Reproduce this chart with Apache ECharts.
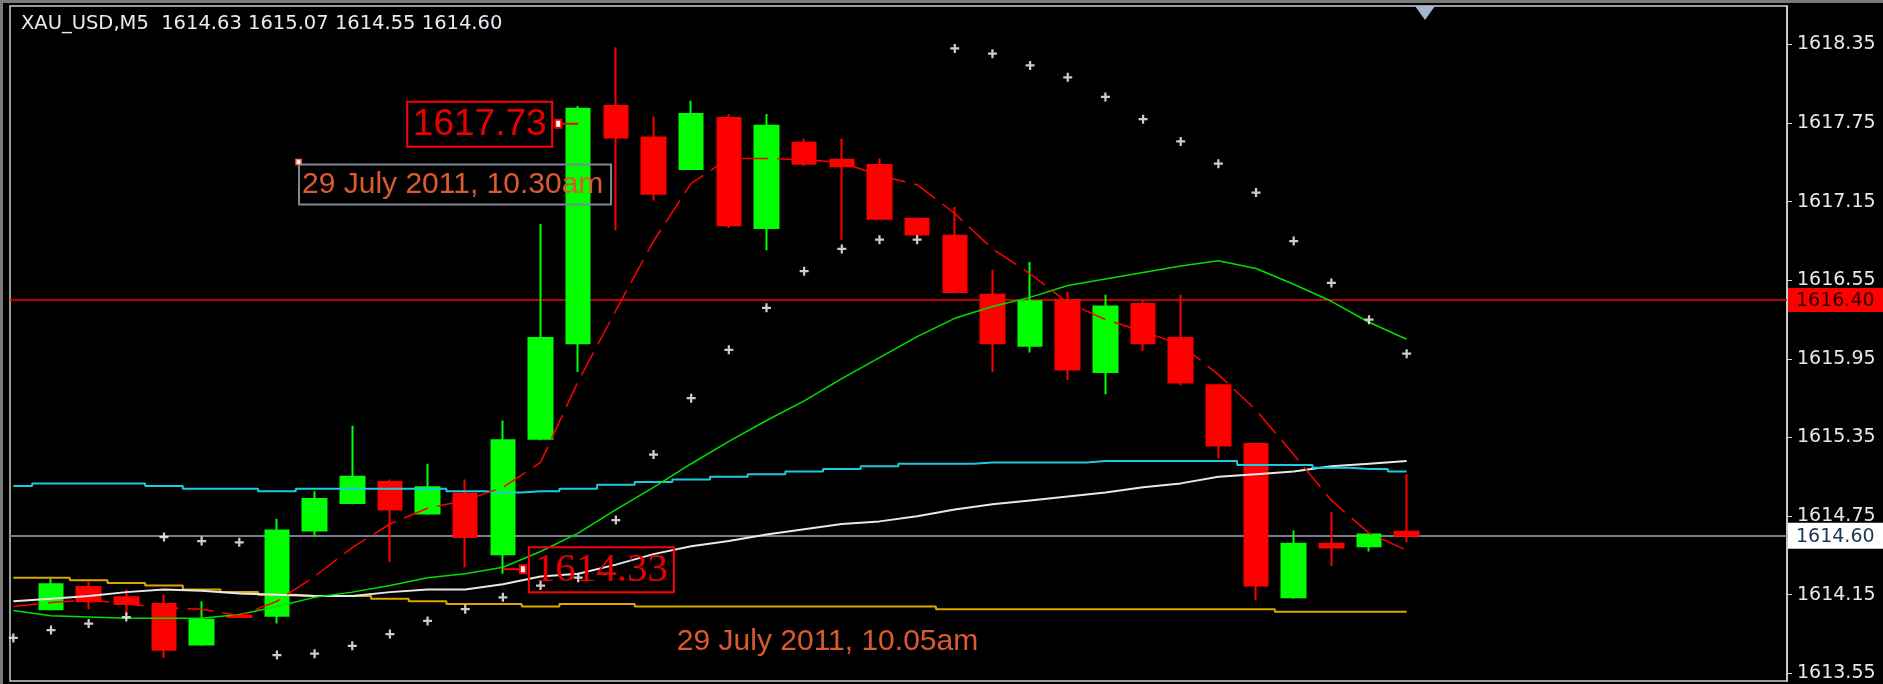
<!DOCTYPE html>
<html>
<head>
<meta charset="utf-8">
<title>XAU_USD,M5</title>
<script src="https://cdn.jsdelivr.net/npm/echarts@6/dist/echarts.min.js"></script>
<style>
  html, body { margin: 0; padding: 0; background: #000; }
  #chart { width: 1883px; height: 684px; }
</style>
</head>
<body>
<div id="chart"></div>
<script>
// ---- data ----
// bar numbers of the visible candles
const bars = [0, 1, 2, 3, 4, 5, 6, 7, 8, 9, 10, 11, 12, 13, 14, 15, 16, 17, 18,
  19, 20, 21, 22, 23, 24, 25, 26, 27, 28, 29, 30, 31, 32, 33, 34, 35, 36];
// indicator lines also start at bar -1 (cut at the left edge)
const lineBars = [-1].concat(bars);

const open = [1614.04, 1614.21, 1614.13, 1614.08, 1613.77, 1613.99, 1613.99, 1614.64, 1614.85, 1615.01,
  1614.77, 1614.92, 1614.46, 1615.34, 1616.07, 1617.88, 1617.64, 1617.40, 1617.79, 1616.95,
  1617.60, 1617.47, 1617.43, 1617.02, 1616.89, 1616.44, 1616.05, 1616.40, 1615.85, 1616.37,
  1616.11, 1615.75, 1615.30, 1614.13, 1614.54, 1614.52, 1614.63];
const high = [1614.27, 1614.25, 1614.19, 1614.15, 1614.10, 1613.99, 1614.73, 1614.94, 1615.44, 1615.03,
  1615.15, 1615.03, 1615.48, 1616.98, 1617.88, 1618.33, 1617.80, 1617.92, 1617.82, 1617.82,
  1617.63, 1617.63, 1617.48, 1617.03, 1617.11, 1616.63, 1616.69, 1616.46, 1616.44, 1616.40,
  1616.44, 1615.76, 1615.31, 1614.64, 1614.78, 1614.61, 1615.07];
const low = [1614.03, 1614.04, 1614.00, 1613.67, 1613.76, 1613.98, 1613.93, 1614.59, 1614.84, 1614.40,
  1614.76, 1614.36, 1614.31, 1615.33, 1615.85, 1616.93, 1617.16, 1617.39, 1616.95, 1616.78,
  1617.42, 1616.86, 1617.02, 1616.89, 1616.45, 1615.85, 1616.00, 1615.79, 1615.68, 1616.01,
  1615.75, 1615.19, 1614.11, 1614.12, 1614.37, 1614.48, 1614.55];
const close = [1614.23, 1614.10, 1614.08, 1613.73, 1613.96, 1613.98, 1614.64, 1614.88, 1615.05, 1614.80,
  1614.97, 1614.59, 1615.33, 1616.11, 1617.86, 1617.64, 1617.21, 1617.82, 1616.97, 1617.73,
  1617.44, 1617.42, 1617.02, 1616.90, 1616.46, 1616.07, 1616.39, 1615.87, 1616.35, 1616.07,
  1615.77, 1615.29, 1614.22, 1614.54, 1614.51, 1614.61, 1614.60];

// indicators, one value per lineBars entry
const psar = [1613.82, 1613.88, 1613.93, 1613.98, 1614.59, 1614.56, 1614.55, 1613.69, 1613.70, 1613.76,
  1613.85, 1613.95, 1614.04, 1614.13, 1614.22, 1614.28, 1614.72, 1615.22, 1615.65, 1616.02,
  1616.34, 1616.62, 1616.79, 1616.86, 1616.86, 1618.32, 1618.28, 1618.19, 1618.10, 1617.95,
  1617.78, 1617.61, 1617.44, 1617.22, 1616.85, 1616.53, 1616.25, 1615.99];
const maFast = [1614.06, 1614.09, 1614.11, 1614.08, 1614.05, 1614.04, 1613.99, 1614.10, 1614.29, 1614.51,
  1614.69, 1614.81, 1614.87, 1614.97, 1615.16, 1615.78, 1616.32, 1616.85, 1617.29, 1617.48,
  1617.48, 1617.47, 1617.45, 1617.35, 1617.28, 1617.06, 1616.79, 1616.60, 1616.38, 1616.25,
  1616.16, 1616.06, 1615.83, 1615.56, 1615.22, 1614.87, 1614.62, 1614.49];
const maSlow = [1614.03, 1613.99, 1613.98, 1613.97, 1613.97, 1613.97, 1614.00, 1614.06, 1614.13, 1614.17,
  1614.22, 1614.28, 1614.31, 1614.36, 1614.48, 1614.62, 1614.80, 1614.97, 1615.15, 1615.32,
  1615.48, 1615.63, 1615.80, 1615.96, 1616.12, 1616.26, 1616.35, 1616.42, 1616.51, 1616.56,
  1616.61, 1616.66, 1616.70, 1616.64, 1616.52, 1616.39, 1616.23, 1616.10];
const cyanLine = [1614.98, 1615.00, 1615.00, 1615.00, 1614.98, 1614.96, 1614.96, 1614.94, 1614.96, 1614.96,
  1614.96, 1614.96, 1614.94, 1614.93, 1614.94, 1614.96, 1614.99, 1615.01, 1615.03, 1615.05,
  1615.07, 1615.09, 1615.11, 1615.13, 1615.15, 1615.15, 1615.16, 1615.16, 1615.16, 1615.17,
  1615.17, 1615.17, 1615.17, 1615.14, 1615.14, 1615.12, 1615.11, 1615.09];
const whiteLine = [1614.10, 1614.12, 1614.14, 1614.17, 1614.19, 1614.18, 1614.16, 1614.15, 1614.14, 1614.14,
  1614.17, 1614.19, 1614.19, 1614.23, 1614.29, 1614.31, 1614.38, 1614.46, 1614.52, 1614.56,
  1614.61, 1614.65, 1614.69, 1614.71, 1614.75, 1614.80, 1614.84, 1614.87, 1614.90, 1614.93,
  1614.97, 1615.00, 1615.05, 1615.07, 1615.09, 1615.13, 1615.15, 1615.17];
const goldLine = [1614.28, 1614.28, 1614.26, 1614.24, 1614.22, 1614.19, 1614.17, 1614.15, 1614.14, 1614.14,
  1614.12, 1614.10, 1614.08, 1614.08, 1614.06, 1614.08, 1614.08, 1614.06, 1614.06, 1614.06,
  1614.06, 1614.06, 1614.06, 1614.06, 1614.06, 1614.04, 1614.04, 1614.04, 1614.04, 1614.04,
  1614.04, 1614.04, 1614.04, 1614.04, 1614.02, 1614.02, 1614.02, 1614.02];

// price scale labels
const yTicks = [1613.55, 1614.15, 1614.75, 1615.35, 1615.95, 1616.55, 1617.15, 1617.75, 1618.35];

const symbolName = 'XAU_USD,M5';
const lastBar = [1614.63, 1615.07, 1614.55, 1614.60]; // O H L C of the current bar
const levelLine = 1616.40;
const bidLine = 1614.60;

// text objects drawn on the chart
const priceNotes = [
  { text: '1617.73', bar: 14, price: 1617.73, side: 'left' },
  { text: '1614.33', bar: 12, price: 1614.33, side: 'right' }
];
const timeNotes = [
  { text: '29 July 2011, 10.30am', bar: 6.56, price: 1617.45, boxed: true },
  { text: '29 July 2011, 10.05am', bar: 16.62, price: 1613.92, boxed: false }
];

// ---- chart ----
const chart = echarts.init(document.getElementById('chart'));

const candles = bars.map((b, k) => [b, open[k], close[k], low[k], high[k]]);
const pairs = arr => lineBars.map((b, k) => [b, arr[k]]);

function lineSeries(name, arr, color, width, extra) {
  return Object.assign({
    name: name,
    type: 'line',
    data: pairs(arr),
    symbol: 'none',
    z: 3,
    lineStyle: { color: color, width: width }
  }, extra || {});
}

chart.setOption({
  animation: false,
  backgroundColor: '#000000',
  grid: {
    left: 10, right: 96, top: 6, bottom: 3,
    show: true, borderColor: '#cfcfcf', borderWidth: 1.5, backgroundColor: '#000000'
  },
  xAxis: { type: 'value', min: -1.089, max: 46.1, show: false },
  yAxis: {
    type: 'value',
    position: 'right',
    min: 1613.4916,
    max: 1618.644,
    axisLine: { show: true, onZero: false, lineStyle: { color: '#d8d8d8', width: 1.5 } },
    axisTick: { show: true, length: 5, customValues: yTicks, lineStyle: { color: '#d8d8d8' } },
    axisLabel: {
      customValues: yTicks,
      margin: 10,
      color: '#e4e9ef',
      fontFamily: 'DejaVu Sans',
      fontSize: 19,
      formatter: v => v.toFixed(2)
    },
    splitLine: { show: false }
  },
  series: [
    {
      name: 'price',
      type: 'candlestick',
      data: candles,
      barWidth: 24,
      z: 2,
      itemStyle: {
        color: '#00ff00', color0: '#ff0000',
        borderColor: '#00ff00', borderColor0: '#ff0000', borderColorDoji: '#ff0000',
        borderWidth: 2
      },
      markLine: {
        silent: true,
        z: 1,
        symbol: 'none',
        label: { show: false },
        data: [
          { yAxis: levelLine, lineStyle: { color: '#ff0000', width: 1.5, type: 'solid' } },
          { yAxis: bidLine, lineStyle: { color: '#748090', width: 2, type: 'solid' } }
        ]
      }
    },
    lineSeries('gold', goldLine, '#d9a900', 2, { step: 'middle' }),
    lineSeries('white', whiteLine, '#e8e8e8', 2),
    lineSeries('cyan', cyanLine, '#1ccbe0', 2, { step: 'middle' }),
    lineSeries('slow MA', maSlow, '#00e000', 1.5),
    lineSeries('fast MA', maFast, '#ff0000', 1.5, {
      lineStyle: { color: '#ff0000', width: 1.5, type: [26, 9] }
    }),
    {
      name: 'SAR',
      type: 'scatter',
      data: pairs(psar),
      z: 4,
      symbol: 'path://M3,0L5,0L5,3L8,3L8,5L5,5L5,8L3,8L3,5L0,5L0,3L3,3Z',
      symbolSize: 9,
      itemStyle: { color: '#ffffff' }
    }
  ]
});

// ---- overlays: header, notes, price boxes ----
const px = (x, p) => chart.convertToPixel({ gridIndex: 0 }, [x, p]);

function txt(x, y, text, font, fill, align) {
  return {
    type: 'text', x: x, y: y, z: 100,
    style: {
      text: text, font: font, fill: fill,
      align: align || 'left', verticalAlign: 'middle',
      textAlign: align || 'left', textVerticalAlign: 'middle'
    }
  };
}
function box(x, y, w, h, fill, stroke, lw) {
  return {
    type: 'rect', z: 100,
    shape: { x: x, y: y, width: w, height: h },
    style: { fill: fill, stroke: stroke, lineWidth: lw || 0 }
  };
}

const g = [];

// window frame and chart shift marker
g.push(box(0, 0, 1883, 3, '#7a7a7a', null));
g.push(box(0, 0, 3, 684, '#7a7a7a', null));
g.push({
  type: 'polygon', z: 100,
  shape: { points: [[1415, 6], [1435, 6], [1425, 20]] },
  style: { fill: '#a3b8cc' }
});

// header line
g.push(txt(21, 24, symbolName + '  ' + lastBar.map(v => v.toFixed(2)).join(' '),
  '19.5px "DejaVu Sans"', '#e6ecf2'));

// price notes with their arrow markers
priceNotes.forEach(n => {
  const p = px(n.bar, n.price);
  const cx = p[0], y = p[1] - 2;
  const dir = n.side === 'left' ? -1 : 1;
  const mx = cx + dir * 20;
  g.push({
    type: 'line', z: 100,
    shape: { x1: cx, y1: y, x2: mx, y2: y },
    style: { stroke: '#ff0000', lineWidth: 2 }
  });
  g.push(box(mx - 3, y - 4, 6, 8, '#ffffff', '#ff0000', 2));
  const w = 145;
  const bx = n.side === 'left' ? mx - 6 - w : mx + 6;
  g.push(box(bx, y - 22, w, 45, 'rgba(0,0,0,0)', '#ff0000', 2));
  const font = n.side === 'left' ? '37px "Liberation Sans"' : '41px "Liberation Serif"';
  g.push(txt(bx + w / 2, y + 1, n.text, font, '#e80000', 'center'));
});

// time notes
timeNotes.forEach(n => {
  const p = px(n.bar, n.price);
  const x = p[0], y = p[1];
  if (n.boxed) {
    g.push(box(x + 1, y + 2, 312, 40, 'rgba(0,0,0,0)', '#7d8996', 2));
    g.push(box(x - 2, y - 3, 5, 5, '#ffffff', '#ff7050', 1.5));
    g.push(txt(x + 4, y + 22, n.text, '30px "Liberation Sans"', '#dc5a32'));
  } else {
    g.push(txt(x, y + 17, n.text, '30px "Liberation Sans"', '#dc5a32'));
  }
});

// price boxes on the scale
const yl = px(0, levelLine)[1];
g.push(box(1788, yl - 12, 95, 24, '#ff0000', null));
g.push(txt(1796, yl + 1, levelLine.toFixed(2), '19px "DejaVu Sans"', '#2a0000'));
const yb = px(0, bidLine)[1];
g.push(box(1788, yb - 13, 95, 26, '#ffffff', null));
g.push(txt(1796, yb + 1, bidLine.toFixed(2), '19px "DejaVu Sans"', '#1c3550'));

chart.setOption({ graphic: { elements: g } });
</script>
</body>
</html>
